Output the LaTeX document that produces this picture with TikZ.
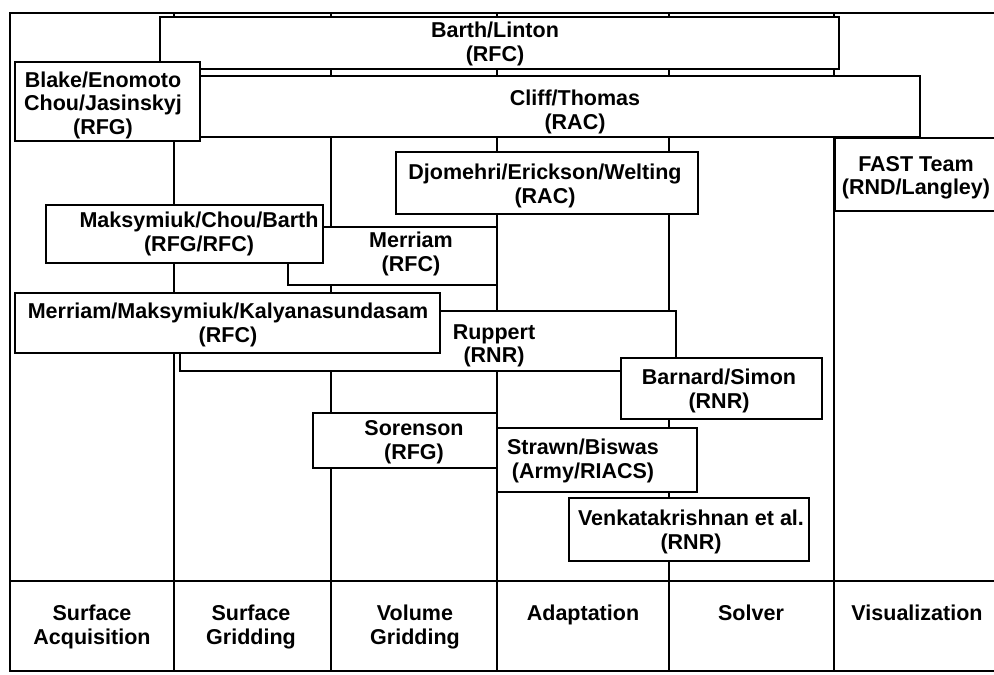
\documentclass[tikz,border=0pt]{standalone}
\usepackage{fontspec}
\setmainfont{Liberation Sans}
\usetikzlibrary{positioning}
\tikzstyle{task} = [draw, fill=white, line width=2pt, inner sep=0pt]
\tikzstyle{lbl} = [align=center, inner sep=0pt, font=\bfseries\fontsize{21.5}{23.5}\selectfont]

\begin{document}
\begin{tikzpicture}[x=1pt, y=-1pt, line width=2pt]
    \useasboundingbox (0,0) rectangle (994,675);
    \clip (0,0) rectangle (994,675);
    % frame and columns
    \draw (994,13) -- (10,13) -- (10,671) -- (994,671);
    \draw (10,581) -- (994,581);
    \foreach \x in {174,331,497,669,834}
        \draw (\x,13) -- (\x,671);
    % groups
    \node (barth) [task, minimum width=679pt, minimum height=52pt] at (499.5,43) {};
    \node (cliff) [task, minimum width=777pt, minimum height=61pt] at (531.5,106.5) {};
    \node (blake) [task, minimum width=185pt, minimum height=79pt] at (107.5,101.5) {};
    \node (djomehri) [task, minimum width=302pt, minimum height=62pt] at (547,183) {};
    \node (fast) [task, minimum width=190pt, minimum height=73pt] at (930,174.5) {};
    \node (merriam) [task, minimum width=209pt, minimum height=58pt] at (392.5,256) {};
    \node (maks) [task, minimum width=277pt, minimum height=58pt] at (184.5,234) {};
    \node (ruppert) [task, minimum width=496pt, minimum height=60pt] at (428,341) {};
    \node (mmk) [task, minimum width=425pt, minimum height=60pt] at (227.5,323) {};
    \node (barnard) [task, minimum width=201pt, minimum height=61pt] at (721.5,388.5) {};
    \node (sorenson) [task, minimum width=184pt, minimum height=55pt] at (405,440.5) {};
    \node (strawn) [task, minimum width=200pt, minimum height=64pt] at (597,460) {};
    \node (venk) [task, minimum width=240pt, minimum height=63pt] at (689,529.5) {};
    % names
    \node (barth-t) [lbl] at (495,44) {Barth/Linton\\(RFC)};
    \node (cliff-t) [lbl] at (575,112) {Cliff/Thomas\\(RAC)};
    \node (blake-t) [lbl] at (103,105) {Blake/Enomoto\\Chou/Jasinskyj\\(RFG)};
    \node (djomehri-t) [lbl] at (545,186) {Djomehri/Erickson/Welting\\(RAC)};
    \node (fast-t) [lbl] at (916,178) {FAST Team\\(RND/Langley)};
    \node (merriam-t) [lbl] at (411,254) {Merriam\\(RFC)};
    \node (maks-t) [lbl] at (199,234) {Maksymiuk/Chou/Barth\\(RFG/RFC)};
    \node (ruppert-t) [lbl] at (494,346) {Ruppert\\(RNR)};
    \node (mmk-t) [lbl] at (228,325) {Merriam/Maksymiuk/Kalyanasundasam\\(RFC)};
    \node (barnard-t) [lbl] at (719,391) {Barnard/Simon\\(RNR)};
    \node (sorenson-t) [lbl] at (414,442) {Sorenson\\(RFG)};
    \node (strawn-t) [lbl] at (583,461) {Strawn/Biswas\\(Army/RIACS)};
    \node (venk-t) [lbl] at (691,532) {Venkatakrishnan et al.\\(RNR)};
    % columns
    \node (acq) [lbl, anchor=north] at (92,604) {Surface\\Acquisition};
    \node (sgrid) [lbl, anchor=north] at (251,604) {Surface\\Gridding};
    \node (vgrid) [lbl, anchor=north] at (415,604) {Volume\\Gridding};
    \node (adapt) [lbl, anchor=north] at (583,604) {Adaptation};
    \node (solver) [lbl, anchor=north] at (751,604) {Solver};
    \node (vis) [lbl, anchor=north] at (917,604) {Visualization};
\end{tikzpicture}
\end{document}
